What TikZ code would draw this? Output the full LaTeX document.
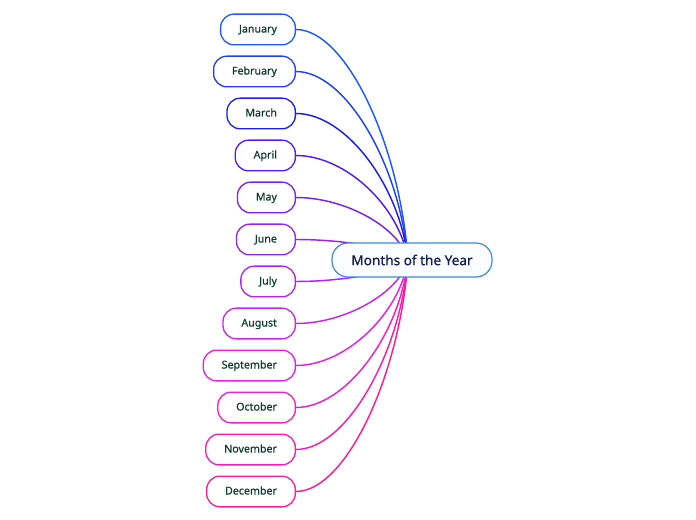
\documentclass[tikz,border=0pt]{standalone}
\usepackage{fontspec}
\setmainfont{Noto Sans}
\newfontfamily\medfont{Noto Sans}[FakeBold=0.6]
\usepackage{xcolor}
\usepackage{tikz}
\usetikzlibrary{calc}
\definecolor{monthtext}{RGB}{12, 62, 46}
\definecolor{hubtext}{RGB}{20, 30, 80}
\definecolor{hubborder}{RGB}{60, 140, 210}
\definecolor{hubfill}{RGB}{250, 252, 255}
\definecolor{janblue}{RGB}{30, 90, 255}
\definecolor{febblue}{RGB}{32, 64, 250}
\definecolor{marblue}{RGB}{30, 30, 235}
\definecolor{aprviolet}{RGB}{80, 30, 240}
\definecolor{mayviolet}{RGB}{120, 35, 240}
\definecolor{junviolet}{RGB}{150, 35, 240}
\definecolor{julpurple}{RGB}{175, 35, 238}
\definecolor{augpurple}{RGB}{205, 35, 235}
\definecolor{sepmagenta}{RGB}{230, 30, 230}
\definecolor{octmagenta}{RGB}{240, 30, 205}
\definecolor{novpink}{RGB}{245, 30, 175}
\definecolor{decpink}{RGB}{250, 30, 145}

\tikzset{
    monthbox/.style={draw=#1, line width=1pt, fill=white, rounded corners=10pt,
        anchor=east, minimum height=23pt, inner xsep=13.8pt,
        text height=6pt, text depth=1.5pt,
        text=monthtext, font=\medfont\fontsize{8}{10}\selectfont},
    link/.style={draw=#1, line width=1.1pt},
    hubbox/.style={draw=hubborder, line width=0.9pt, fill=hubfill, rounded corners=12pt,
        minimum width=120pt, minimum height=25.5pt,
        text=hubtext, font=\medfont\fontsize{10.2}{12}\selectfont}
}

\begin{document}
\begin{tikzpicture}[x=0.75pt, y=-0.75pt]
    \useasboundingbox (0,0) rectangle (696,520);

    % Months
    \node[monthbox=janblue] (jan) at (296,29.5) {January};
    \node[monthbox=febblue] (feb) at (296,71.5) {February};
    \node[monthbox=marblue] (mar) at (296,113.5) {March};
    \node[monthbox=aprviolet] (apr) at (296,155.5) {April};
    \node[monthbox=mayviolet] (may) at (296,197.5) {May};
    \node[monthbox=junviolet] (jun) at (296,239.5) {June};
    \node[monthbox=julpurple] (jul) at (296,281.5) {July};
    \node[monthbox=augpurple] (aug) at (296,323.5) {August};
    \node[monthbox=sepmagenta] (sep) at (296,365.5) {September};
    \node[monthbox=octmagenta] (oct) at (296,407.5) {October};
    \node[monthbox=novpink] (nov) at (296,449.5) {November};
    \node[monthbox=decpink] (dec) at (296,491.5) {December};

    % Connectors to the centre
    \coordinate (hub) at (408,260);
    \draw[link=janblue] (jan.east) .. controls +(50,0) and ($(hub)+(-8,-115)$) .. (hub);
    \draw[link=febblue] (feb.east) .. controls +(50,0) and ($(hub)+(-8,-95)$) .. (hub);
    \draw[link=marblue] (mar.east) .. controls +(50,0) and ($(hub)+(-8,-74)$) .. (hub);
    \draw[link=aprviolet] (apr.east) .. controls +(50,0) and ($(hub)+(-8,-53)$) .. (hub);
    \draw[link=mayviolet] (may.east) .. controls +(50,0) and ($(hub)+(-8,-32)$) .. (hub);
    \draw[link=junviolet] (jun.east) .. controls +(50,0) and ($(hub)+(-8,-11)$) .. (hub);
    \draw[link=julpurple] (jul.east) .. controls +(50,0) and ($(hub)+(-8,11)$) .. (hub);
    \draw[link=augpurple] (aug.east) .. controls +(50,0) and ($(hub)+(-8,32)$) .. (hub);
    \draw[link=sepmagenta] (sep.east) .. controls +(50,0) and ($(hub)+(-8,53)$) .. (hub);
    \draw[link=octmagenta] (oct.east) .. controls +(50,0) and ($(hub)+(-8,74)$) .. (hub);
    \draw[link=novpink] (nov.east) .. controls +(50,0) and ($(hub)+(-8,95)$) .. (hub);
    \draw[link=decpink] (dec.east) .. controls +(50,0) and ($(hub)+(-8,115)$) .. (hub);

    % Centre
    \node[hubbox] (year) at (412,260) {Months of the Year};
\end{tikzpicture}
\end{document}
